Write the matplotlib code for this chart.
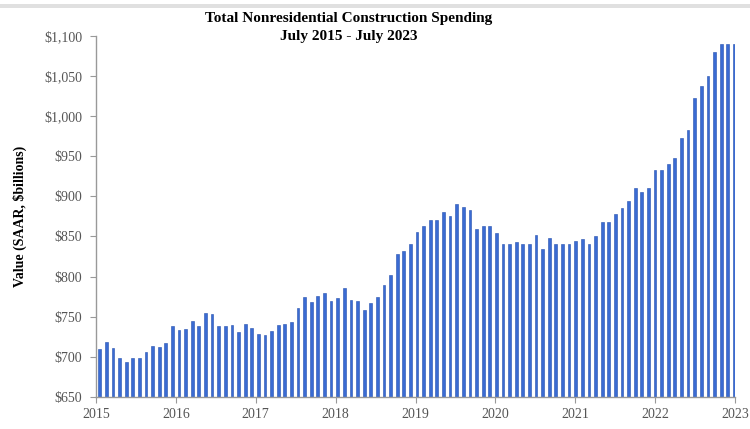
import numpy as np
import pandas as pd
import matplotlib
matplotlib.use("Agg")
import matplotlib.pyplot as plt
from matplotlib.patches import Rectangle

# monthly nonresidential construction spending, SAAR, $ billions (Jul 2015 - Jul 2023)
months = pd.date_range("2015-07-01", "2023-07-01", freq="MS")
spending = [710, 719, 711, 698, 693, 698, 698, 706, 713, 712, 717, 738,
            733, 735, 745, 738, 755, 753, 738, 738, 739, 731, 741, 736,
            728, 727, 732, 739, 741, 743, 761, 774, 768, 776, 780, 769,
            773, 786, 771, 770, 758, 767, 775, 790, 802, 828, 832, 840,
            855, 863, 870, 870, 880, 876, 890, 887, 883, 859, 863, 863,
            854, 841, 841, 843, 841, 841, 852, 835, 848, 841, 841, 841,
            844, 847, 841, 850, 868, 868, 878, 885, 894, 911, 906, 911,
            933, 933, 940, 948, 973, 983, 1023, 1038, 1050, 1080, 1090, 1090,
            1090]
year_labels = ["2015", "2016", "2017", "2018", "2019", "2020", "2021", "2022", "2023"]
y_ticks = [650, 700, 750, 800, 850, 900, 950, 1000, 1050, 1100]
y_labels = ["$650", "$700", "$750", "$800", "$850", "$900", "$950", "$1,000", "$1,050", "$1,100"]

plt.rcParams["font.family"] = ["Liberation Serif", "DejaVu Serif"]

fig = plt.figure(figsize=(7.5, 4.29), dpi=100)
ax = fig.add_axes([0.128, 0.075, 0.852, 0.841])

x = np.arange(len(months))
ax.bar(x, spending, width=0.42, color="#3A6BD3", edgecolor="#2450AE", linewidth=0.4)

x0, x1 = -0.56, 96.1
ax.set_xlim(x0, x1)
ax.set_ylim(650, 1100)

ax.set_xticks(np.linspace(x0, x1, len(year_labels)))
ax.set_xticklabels(year_labels, fontsize=10, color="#555555")
ax.set_yticks(y_ticks)
ax.set_yticklabels(y_labels, fontsize=10, color="#555555")
ax.tick_params(axis="both", direction="out", length=4, color="#999999", width=0.8)
ax.tick_params(axis="x", pad=4)
ax.tick_params(axis="y", pad=6)

for s in ["top", "right"]:
    ax.spines[s].set_visible(False)
for s in ["left", "bottom"]:
    ax.spines[s].set_color("#999999")
    ax.spines[s].set_linewidth(1.0)

ax.set_ylabel("Value (SAAR, $billions)", fontsize=10, fontweight="bold", labelpad=12)

fig.text(0.465, 0.972, "Total Nonresidential Construction Spending\nJuly 2015 - July 2023",
         ha="center", va="top", fontsize=11, fontweight="bold", linespacing=1.45)

# thin grey band along the top edge
fig.add_artist(Rectangle((0, 0.982), 1, 0.008, transform=fig.transFigure,
                         facecolor="#e0e0e0", edgecolor="none"))

fig.savefig("out.png", dpi=100)
